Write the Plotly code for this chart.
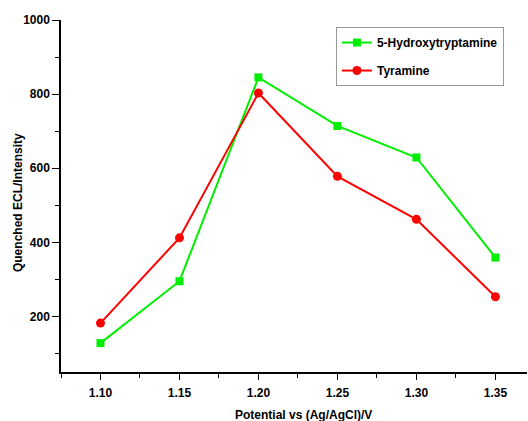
import plotly.graph_objects as go

potential = [1.10, 1.15, 1.20, 1.25, 1.30, 1.35]
hydroxytryptamine = [128, 295, 845, 714, 629, 359]
tyramine = [182, 412, 803, 578, 462, 253]
x_ticks = [1.10, 1.15, 1.20, 1.25, 1.30, 1.35]
x_tick_labels = ["1.10", "1.15", "1.20", "1.25", "1.30", "1.35"]
y_ticks = [200, 400, 600, 800, 1000]

fam = "Arial, Liberation Sans, sans-serif"
fnt = dict(family=fam, size=12, color="black")

fig = go.Figure()
fig.add_trace(go.Scatter(
    x=potential, y=hydroxytryptamine, mode="lines+markers",
    name="<b>5-Hydroxytryptamine</b>", legendgroup="a",
    line=dict(color="#00ee00", width=2),
    marker=dict(symbol="square", size=8, color="#00ee00"),
))
fig.add_trace(go.Scatter(
    x=potential, y=tyramine, mode="lines+markers",
    name="<b>Tyramine</b>", legendgroup="b",
    line=dict(color="#ff0000", width=2),
    marker=dict(symbol="circle", size=9, color="#ff0000"),
))

fig.update_layout(
    width=528, height=421,
    margin=dict(l=61, r=1, t=20, b=49),
    paper_bgcolor="white", plot_bgcolor="white",
    font=fnt,
    legend=dict(
        x=0.59, y=0.98, xanchor="left", yanchor="top",
        bordercolor="#999999", borderwidth=1, bgcolor="white",
        font=fnt, tracegroupgap=9,
    ),
    showlegend=True,
    annotations=[
        dict(text="<b>Quenched ECL/Intensity</b>", xref="paper", yref="paper",
             x=(18 - 61) / 466, y=0.48, textangle=-90, showarrow=False,
             xanchor="center", yanchor="middle", font=fnt),
        dict(text="<b>Potential vs (Ag/AgCl)/V</b>", xref="paper", yref="paper",
             x=0.521, y=(372 - 415) / 352, showarrow=False,
             xanchor="center", yanchor="middle", font=fnt),
    ],
)
fig.update_xaxes(
    range=[1.075, 1.37], tickvals=x_ticks, ticktext=["<b>%s</b>" % t for t in x_tick_labels],
    showline=True, linecolor="black", linewidth=1.5, mirror=False,
    ticks="outside", ticklen=6, tickwidth=1, tickcolor="black",
    minor=dict(ticks="outside", ticklen=4, tickcolor="black", dtick=0.025, tick0=1.1),
    showgrid=False, zeroline=False, tickfont=fnt, ticklabelstandoff=3,
)
fig.update_yaxes(
    range=[50, 1000], tickvals=y_ticks, ticktext=["<b>%d</b>" % v for v in y_ticks],
    showline=True, linecolor="black", linewidth=1.5, mirror=False,
    ticks="outside", ticklen=7, tickwidth=1, tickcolor="black",
    minor=dict(ticks="outside", ticklen=4, tickcolor="black", dtick=100, tick0=0),
    showgrid=False, zeroline=False, tickfont=fnt,
)

fig.write_html("out.html")
